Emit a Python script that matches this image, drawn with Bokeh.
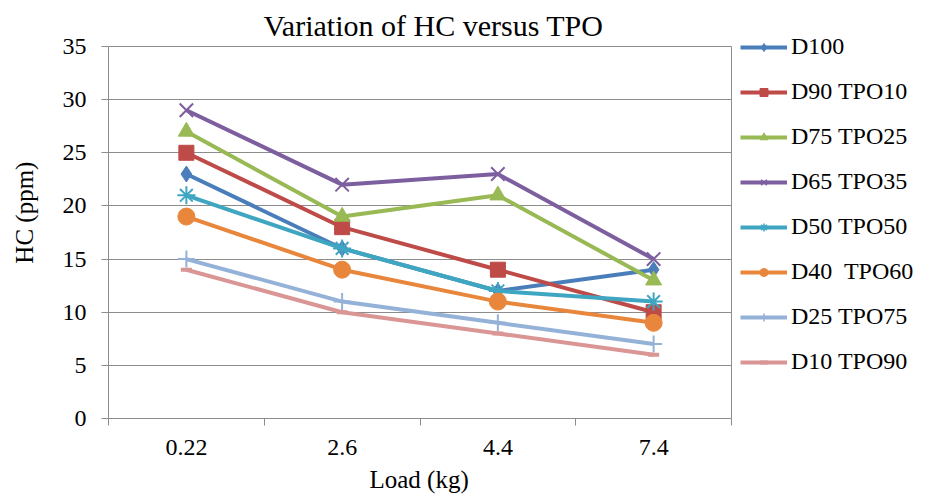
from bokeh.plotting import figure
from bokeh.models import FixedTicker, Legend, LegendItem, Range1d, Label, Title
from bokeh.embed import file_html
from bokeh.resources import INLINE

# ---- data ----
loads = ["0.22", "2.6", "4.4", "7.4"]
series_names = ["D100", "D90 TPO10", "D75 TPO25", "D65 TPO35",
                "D50 TPO50", "D40  TPO60", "D25 TPO75", "D10 TPO90"]
d100 = [23, 16, 12, 14]
d90_tpo10 = [25, 18, 14, 10]
d75_tpo25 = [27, 19, 21, 13]
d65_tpo35 = [29, 22, 23, 15]
d50_tpo50 = [21, 16, 12, 11]
d40_tpo60 = [19, 14, 11, 9]
d25_tpo75 = [15, 11, 9, 7]
d10_tpo90 = [14, 10, 8, 6]
y_ticks = [0, 5, 10, 15, 20, 25, 30, 35]
title_text = "Variation of HC versus TPO"
x_label = "Load (kg)"
y_label = "HC  (ppm)"

series_values = [d100, d90_tpo10, d75_tpo25, d65_tpo35,
                 d50_tpo50, d40_tpo60, d25_tpo75, d10_tpo90]

# ---- styles ----
colors = ["#4A7EBB", "#BE4B48", "#98B954", "#7D5FA0",
          "#3FA6C2", "#E8873C", "#94B1D8", "#D99694"]
markers = ["diamond", "square", "triangle", "x",
           "asterisk", "circle", "cross", "dash"]
msizes = [16, 15, 16, 19, 18, 17, 17, 11]
leg_msizes = [12, 12, 12, 14, 14, 13, 14, 9]

FONT = "Liberation Serif"
GRID = "#8C8C8C"

n = len(loads)
x_pos = [i + 0.5 for i in range(n)]
y_top = y_ticks[-1]

# frame spans x 108..935 and y 0..418 px; the data area is 108..731 x 46..418
x_max = n * (935 - 108) / (731 - 108)
y_max = y_top * 418 / (418 - 46)

p = figure(width=935, height=499, output_backend="svg", toolbar_location=None,
           title=None,
           x_range=Range1d(0, x_max), y_range=Range1d(0, y_max),
           min_border_left=108, min_border_right=0,
           min_border_top=0, min_border_bottom=81)

p.background_fill_color = "white"
p.border_fill_color = "white"
p.outline_line_color = None

# x axis
xa = p.xaxis[0]
xa.bounds = (0, n)
xa.ticker = FixedTicker(ticks=x_pos, minor_ticks=list(range(n + 1)))
xa.major_label_overrides = {x: lab for x, lab in zip(x_pos, loads)}
xa.major_tick_line_color = None
xa.major_tick_out = 0
xa.major_tick_in = 0
xa.minor_tick_out = 7
xa.minor_tick_in = 0
xa.minor_tick_line_color = GRID
xa.axis_line_color = GRID
xa.major_label_text_font = FONT
xa.major_label_text_font_size = "24px"
xa.major_label_text_color = "black"
xa.major_label_standoff = 14

# x axis title, centred under the data area (not under the whole frame)
xtitle = Title(text=x_label, align="left", offset=261, standoff=12,
               text_font=FONT, text_font_size="25px", text_font_style="normal",
               text_color="black")
p.add_layout(xtitle, "below")

# y axis
ya = p.yaxis[0]
ya.bounds = (0, y_top)
ya.ticker = FixedTicker(ticks=y_ticks)
ya.major_tick_out = 7
ya.major_tick_in = 0
ya.major_tick_line_color = GRID
ya.minor_tick_line_color = None
ya.axis_line_color = GRID
ya.axis_label = y_label
ya.axis_label_text_font = FONT
ya.axis_label_text_font_size = "25px"
ya.axis_label_text_font_style = "normal"
ya.axis_label_text_color = "black"
ya.axis_label_standoff = 22
ya.major_label_text_font = FONT
ya.major_label_text_font_size = "24px"
ya.major_label_text_color = "black"
ya.major_label_standoff = 15

# horizontal gridlines restricted to the data area
p.ygrid.ticker = FixedTicker(ticks=y_ticks)
p.ygrid.grid_line_color = GRID
p.ygrid.grid_line_width = 1
p.ygrid.cross_bounds = (0, n)
# right border of the plot area
p.xgrid.ticker = FixedTicker(ticks=[n])
p.xgrid.grid_line_color = GRID
p.xgrid.grid_line_width = 1
p.xgrid.cross_bounds = (0, y_top)

# chart title as a label above the plot area
title = Label(x=433 - 108, y=418 - 25, x_units="screen", y_units="screen",
              text=title_text, text_font=FONT, text_font_size="30px",
              text_align="center", text_baseline="alphabetic", text_color="black")
p.add_layout(title)

items = []
for name, vals, c, m, s, ls in zip(series_names, series_values, colors, markers, msizes, leg_msizes):
    p.line(x_pos, vals, line_color=c, line_width=4)
    if m in ("x", "asterisk", "cross"):
        p.scatter(x_pos, vals, marker=m, size=s, line_color=c, line_width=2, fill_color=c)
    elif m == "dash":
        p.scatter(x_pos, vals, marker=m, size=s, line_color=c, line_width=4, fill_color=c)
    else:
        p.scatter(x_pos, vals, marker=m, size=s, line_color=c, fill_color=c, line_width=1)
    # key swatches: hidden renderers with smaller markers, used only by the legend
    l_ln = p.line(x_pos, vals, line_color=c, line_width=4, visible=False)
    if m == "dash":
        l_sc = p.scatter(x_pos, vals, marker=m, size=ls, line_color=c, line_width=4, visible=False)
    elif m in ("x", "asterisk", "cross"):
        l_sc = p.scatter(x_pos, vals, marker=m, size=ls, line_color=c, line_width=1.5, visible=False)
    else:
        l_sc = p.scatter(x_pos, vals, marker=m, size=ls, line_color=c, fill_color=c,
                         line_width=1, visible=False)
    items.append(LegendItem(label=name, renderers=[l_ln, l_sc]))

legend = Legend(items=items, location=(740 - 108, 43))
legend.padding = 0
legend.margin = 0
legend.border_line_color = None
legend.background_fill_alpha = 0
legend.glyph_width = 47
legend.glyph_height = 20
legend.label_height = 20
legend.spacing = 18
legend.label_standoff = 4
legend.label_text_font = FONT
legend.label_text_font_size = "24px"
legend.label_text_color = "black"
p.add_layout(legend, "center")

open("out.html", "w").write(file_html(p, INLINE))
